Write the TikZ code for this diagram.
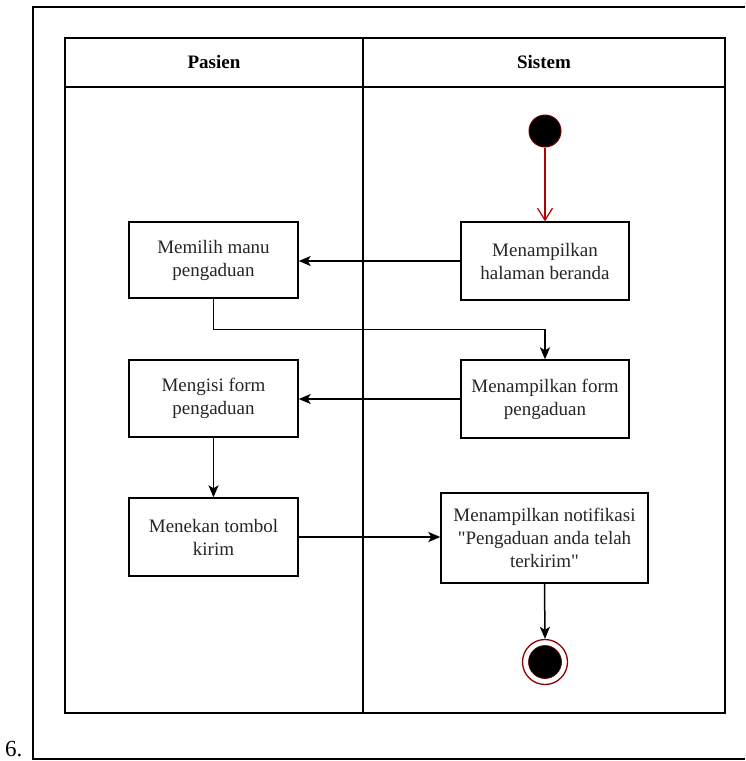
\documentclass[tikz,border=0pt]{standalone}
\usepackage{fontspec}
\setmainfont{Liberation Serif}
\usetikzlibrary{arrows.meta,positioning,calc}

\definecolor{startred}{HTML}{B20000}

\tikzset{
  lane/.style={draw=black, line width=1.4pt},
  actbox/.style={draw=black, line width=1.4pt, fill=white, align=center,
    inner sep=0pt, font=\fontsize{19}{23}\selectfont, text=black!85},
  hdr/.style={font=\fontsize{19}{22}\selectfont\bfseries},
  arr/.style={line width=1.5pt, -{Stealth[length=12pt,width=10pt,inset=3pt]}},
  startarr/.style={draw=startred, line width=1.2pt, -{Straight Barb[length=12pt,width=15pt,line width=1.2pt]}},
  initnode/.style={circle, fill=black, draw=startred!60!black, line width=1pt,
    minimum size=32pt, inner sep=0pt},
  finalring/.style={circle, draw=startred!80!black, line width=1.3pt, fill=white,
    minimum size=45pt, inner sep=0pt},
  finaldot/.style={circle, fill=black, draw=startred!50!black, line width=0.6pt,
    minimum size=33pt, inner sep=0pt}
}

\begin{document}
\begin{tikzpicture}[x=1pt, y=-1pt]
  \useasboundingbox (0,0) rectangle (745,761);

  % page frame and item number
  \draw[line width=1.1pt] (745,7) -- (33,7) -- (33,759) -- (745,759);
  \node[anchor=base west, inner sep=0pt, font=\fontsize{23}{26}\selectfont] (num) at (5,756) {6.};

  % swimlane pool
  \draw[lane] (65,38) rectangle (725,713);
  \draw[lane] (65,87) -- (725,87);
  \draw[lane] (363,38) -- (363,713);
  \node[hdr] (hpasien) at (214,62) {Pasien};
  \node[hdr] (hsistem) at (544,62) {Sistem};

  % activities
  \node[initnode] (start) at (545,131) {};
  \node[actbox, minimum width=168pt, minimum height=78pt] (beranda) at (545,261) {Menampilkan\\halaman beranda};
  \node[actbox, minimum width=169pt, minimum height=76pt] (menu) at (213.5,260) {Memilih manu\\pengaduan};
  \node[actbox, minimum width=168pt, minimum height=78pt] (tform) at (545,399) {Menampilkan form\\pengaduan};
  \node[actbox, minimum width=169pt, minimum height=77pt] (isi) at (213.5,398.5) {Mengisi form\\pengaduan};
  \node[actbox, minimum width=169pt, minimum height=78pt] (kirim) at (213.5,537) {Menekan tombol\\kirim};
  \node[actbox, minimum width=207pt, minimum height=90pt] (notif) at (544.5,538) {Menampilkan notifikasi\\\textquotedbl Pengaduan anda telah\\terkirim\textquotedbl};
  \node[finalring] (endring) at (545,662) {};
  \node[finaldot] (enddot) at (endring.center) {};

  % flows
  \draw[startarr] (start.south) -- (beranda.north);
  \draw[arr] (beranda.west) -- (beranda.west -| menu.east);
  \draw[arr] (menu.south) -- ++(0,31) -| (tform.north);
  \draw[arr] (tform.west) -- (tform.west -| isi.east);
  \draw[arr] (isi.south) -- (kirim.north);
  \draw[arr] (kirim.east) -- (kirim.east -| notif.west);
  \draw[arr] (notif.south) -- (endring.north);
\end{tikzpicture}
\end{document}
